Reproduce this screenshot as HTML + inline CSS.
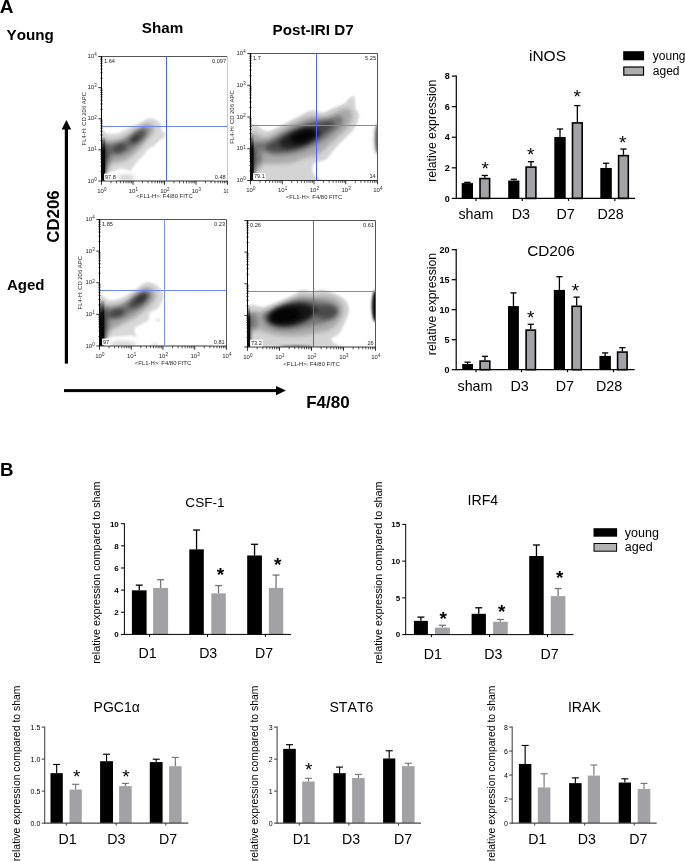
<!DOCTYPE html>
<html lang="en">
<head>
<meta charset="utf-8">
<title>Figure</title>
<style>
html,body{margin:0;padding:0;background:#fff;}
body{width:685px;height:861px;overflow:hidden;}
svg{display:block;font-family:'Liberation Sans', Arial, sans-serif;font-kerning:none;}
</style>
</head>
<body>
<svg width="685" height="861" viewBox="0 0 685 861">
<defs>
<linearGradient id="sg" x1="0" y1="0" x2="0" y2="1"><stop offset="0" stop-color="#000" stop-opacity="0.05"/><stop offset="0.3" stop-color="#000" stop-opacity="0.9"/><stop offset="1" stop-color="#000" stop-opacity="1"/></linearGradient>
<filter id="b0" x="-50%" y="-50%" width="200%" height="200%"><feGaussianBlur stdDeviation="0.7"/></filter>
<filter id="b1" x="-50%" y="-50%" width="200%" height="200%"><feGaussianBlur stdDeviation="1.2"/></filter>
<filter id="b2" x="-50%" y="-50%" width="200%" height="200%"><feGaussianBlur stdDeviation="2.2"/></filter>
<filter id="b3" x="-50%" y="-50%" width="200%" height="200%"><feGaussianBlur stdDeviation="3.2"/></filter>
<filter id="b4" x="-50%" y="-50%" width="200%" height="200%"><feGaussianBlur stdDeviation="4.5"/></filter>
</defs>
<rect width="685" height="861" fill="#fff"/>
<text x="-0.3" y="13.1" font-size="19" font-weight="bold">A</text>
<text x="6.6" y="39.7" font-size="15.2" font-weight="bold">Young</text>
<text x="141.8" y="33" font-size="15.2" font-weight="bold">Sham</text>
<text x="272.6" y="35" font-size="15.2" font-weight="bold">Post-IRI D7</text>
<text x="7" y="290.4" font-size="15" font-weight="bold">Aged</text>
<text x="59" y="216.5" font-size="16.8" font-weight="bold" text-anchor="middle" transform="rotate(-90 59 216.5)">CD206</text>
<text x="306.2" y="408.4" font-size="17" font-weight="bold">F4/80</text>
<rect x="64.8" y="128" width="3.2" height="235.6" fill="#000"/>
<polygon points="66.4,120 71.2,129.6 61.6,129.6"/>
<rect x="64" y="389.1" width="214" height="3" fill="#000"/>
<polygon points="286,390.6 276,385.9 276,395.3"/>
<clipPath id="g0"><rect x="0" y="0" width="228.3" height="861"/></clipPath>
<g clip-path="url(#g0)">
<clipPath id="c0"><rect x="101.5" y="56.5" width="126" height="124.5"/></clipPath>
<g clip-path="url(#c0)">
<path d="M101 132C102 125.23 104.25 133.17 107 133.4C109.75 133.63 114.77 133.9 117.5 133.4C120.23 132.9 120.48 131.77 123.4 130.4C126.32 129.03 131.5 126.85 135 125.2C138.5 123.55 142.07 121.67 144.4 120.5C146.73 119.33 147.25 118.4 149 118.2C150.75 118 152.95 118.33 154.9 119.3C156.85 120.27 159.53 122.23 160.7 124C161.87 125.77 161.12 128.15 161.9 129.9C162.68 131.65 165.22 133.15 165.4 134.5C165.58 135.85 164.17 136.83 163 138C161.83 139.17 159.95 140.13 158.4 141.5C156.85 142.87 155.27 145.03 153.7 146.2C152.13 147.37 150.55 147.13 149 148.5C147.45 149.87 146.15 152.45 144.4 154.4C142.65 156.35 140.25 158.27 138.5 160.2C136.75 162.13 135.25 164.25 133.9 166C132.55 167.75 131.77 170.1 130.4 170.7C129.03 171.3 127.27 169.98 125.7 169.6C124.13 169.22 122.75 168.22 121 168.4C119.25 168.58 117.15 170.12 115.2 170.7C113.25 171.28 110.87 171.52 109.3 171.9C107.73 172.28 107.18 172.65 105.8 173C104.42 173.35 101.8 180.83 101 174C100.2 167.17 100 138.77 101 132Z" fill="#000" fill-opacity="0.15" filter="url(#b1)"/>
<path d="M101 138C102.17 134 105.17 139.83 108 140C110.83 140.17 114.83 139.83 118 139C121.17 138.17 123.67 136.83 127 135C130.33 133.17 134.83 129.92 138 128C141.17 126.08 143.83 124.17 146 123.5C148.17 122.83 149.67 123.25 151 124C152.33 124.75 153.83 126.33 154 128C154.17 129.67 153.17 132 152 134C150.83 136 148.83 137.83 147 140C145.17 142.17 143 144.83 141 147C139 149.17 137.17 151 135 153C132.83 155 130.5 157.5 128 159C125.5 160.5 123 161.33 120 162C117 162.67 113.17 162.67 110 163C106.83 163.33 102.5 168.17 101 164C99.5 159.83 99.83 142 101 138Z" fill="#000" fill-opacity="0.24" filter="url(#b2)"/>
<path d="M101 142C102.17 139.67 105.5 143.75 108 144C110.5 144.25 113.17 144.17 116 143.5C118.83 142.83 122 141.75 125 140C128 138.25 131.17 135 134 133C136.83 131 139.83 128.83 142 128C144.17 127.17 146 127.33 147 128C148 128.67 148.5 130.33 148 132C147.5 133.67 145.83 135.83 144 138C142.17 140.17 139.5 142.83 137 145C134.5 147.17 131.67 149.42 129 151C126.33 152.58 123.83 153.67 121 154.5C118.17 155.33 115.33 155.42 112 156C108.67 156.58 102.83 160.33 101 158C99.17 155.67 99.83 144.33 101 142Z" fill="#000" fill-opacity="0.28" filter="url(#b2)"/>
<ellipse cx="118.7" cy="148.3" rx="7.5" ry="4.6" fill="#000" fill-opacity="0.36" filter="url(#b2)" transform="rotate(-15 118.7 148.3)"/>
<ellipse cx="137.5" cy="137" rx="9.5" ry="4.4" fill="#000" fill-opacity="0.36" filter="url(#b2)" transform="rotate(-38 137.5 137)"/>
<ellipse cx="135.5" cy="138.5" rx="4" ry="3" fill="#000" fill-opacity="0.16" filter="url(#b1)" transform="rotate(-38 135.5 138.5)"/>
<ellipse cx="127" cy="143.5" rx="12" ry="3.2" fill="#000" fill-opacity="0.14" filter="url(#b2)" transform="rotate(-30 127 143.5)"/>
<ellipse cx="126" cy="177.7" rx="9" ry="2.6" fill="#000" fill-opacity="0.2" filter="url(#b2)"/>
<rect x="101.5" y="137" width="3.7" height="45" fill="url(#sg)" fill-opacity="0.97" filter="url(#b0)"/>
<rect x="102" y="147" width="5" height="30" fill="url(#sg)" fill-opacity="0.35" filter="url(#b1)"/>
<ellipse cx="106" cy="158" rx="4.5" ry="14" fill="#000" fill-opacity="0.3" filter="url(#b2)"/>
</g>
<line x1="101.5" y1="56.5" x2="227.5" y2="56.5" stroke="#555" stroke-width="1"/>
<line x1="227.5" y1="56.5" x2="227.5" y2="181" stroke="#ccc" stroke-width="1"/>
<line x1="101.5" y1="181" x2="227.5" y2="181" stroke="#333" stroke-width="1"/>
<line x1="101.5" y1="126.5" x2="227.5" y2="126.5" stroke="#6f86f2" stroke-width="1"/>
<line x1="166.5" y1="56.5" x2="166.5" y2="181" stroke="#4a66ee" stroke-width="1"/>
<line x1="101.5" y1="56" x2="101.5" y2="181.5" stroke="#000" stroke-width="1"/>
<path d="M110.98 181v2.3M100.3 171.63h2.4M116.53 181v2.3M100.3 166.15h2.4M120.46 181v2.3M100.3 162.26h2.4M123.52 181v2.3M100.3 159.24h2.4M126.01 181v2.3M100.3 156.78h2.4M128.12 181v2.3M100.3 154.7h2.4M129.95 181v2.3M100.3 152.89h2.4M131.56 181v2.3M100.3 151.3h2.4M142.48 181v2.3M100.3 140.51h2.4M148.03 181v2.3M100.3 135.02h2.4M151.96 181v2.3M100.3 131.14h2.4M155.02 181v2.3M100.3 128.12h2.4M157.51 181v2.3M100.3 125.66h2.4M159.62 181v2.3M100.3 123.57h2.4M161.45 181v2.3M100.3 121.77h2.4M163.06 181v2.3M100.3 120.17h2.4M173.98 181v2.3M100.3 109.38h2.4M179.53 181v2.3M100.3 103.9h2.4M183.46 181v2.3M100.3 100.01h2.4M186.52 181v2.3M100.3 96.99h2.4M189.01 181v2.3M100.3 94.53h2.4M191.12 181v2.3M100.3 92.45h2.4M192.95 181v2.3M100.3 90.64h2.4M194.56 181v2.3M100.3 89.05h2.4M205.48 181v2.3M100.3 78.26h2.4M211.03 181v2.3M100.3 72.77h2.4M214.96 181v2.3M100.3 68.89h2.4M218.02 181v2.3M100.3 65.87h2.4M220.51 181v2.3M100.3 63.41h2.4M222.62 181v2.3M100.3 61.32h2.4M224.45 181v2.3M100.3 59.52h2.4M226.06 181v2.3M100.3 57.92h2.4" stroke="#111" stroke-width="0.7" fill="none"/>
<path d="M101.5 181v3.8M98.3 181h3.2M133 181v3.8M98.3 149.88h3.2M164.5 181v3.8M98.3 118.75h3.2M196 181v3.8M98.3 87.62h3.2M227.5 181v3.8M98.3 56.5h3.2" stroke="#111" stroke-width="0.85" fill="none"/>
<text x="97.2" y="192.7" font-size="6" fill="#26262e">10<tspan dy="-1.8" font-size="4.44">0</tspan></text>
<text x="128.7" y="192.7" font-size="6" fill="#26262e">10<tspan dy="-1.8" font-size="4.44">1</tspan></text>
<text x="160.2" y="192.7" font-size="6" fill="#26262e">10<tspan dy="-1.8" font-size="4.44">2</tspan></text>
<text x="191.7" y="192.7" font-size="6" fill="#26262e">10<tspan dy="-1.8" font-size="4.44">3</tspan></text>
<text x="223.2" y="192.7" font-size="6" fill="#26262e">10<tspan dy="-1.8" font-size="4.44">4</tspan></text>
<text x="96.6" y="182.6" font-size="6" text-anchor="end" fill="#26262e">10<tspan dy="-1.8" font-size="4.44">0</tspan></text>
<text x="96.6" y="151.47" font-size="6" text-anchor="end" fill="#26262e">10<tspan dy="-1.8" font-size="4.44">1</tspan></text>
<text x="96.6" y="120.35" font-size="6" text-anchor="end" fill="#26262e">10<tspan dy="-1.8" font-size="4.44">2</tspan></text>
<text x="96.6" y="89.22" font-size="6" text-anchor="end" fill="#26262e">10<tspan dy="-1.8" font-size="4.44">3</tspan></text>
<text x="96.6" y="58.1" font-size="6" text-anchor="end" fill="#26262e">10<tspan dy="-1.8" font-size="4.44">4</tspan></text>
<text x="86.3" y="118.75" font-size="5.9" text-anchor="middle" fill="#26262e" transform="rotate(-90 86.3 118.75)">FL4-H: CD 206 APC</text>
<text x="164.5" y="198.4" font-size="5.9" text-anchor="middle" fill="#26262e">&lt;FL1-H&gt;: F4/80 FITC</text>
<text x="104" y="63.3" font-size="5.6" fill="#26262e">1.64</text>
<text x="226" y="63.3" font-size="5.6" text-anchor="end" fill="#26262e">0.097</text>
<rect x="104.1" y="173.6" width="12.5" height="6.7" fill="#fff"/>
<text x="104.9" y="178.9" font-size="5.6" fill="#26262e">97.8</text>
<rect x="214" y="173.6" width="12.3" height="6.7" fill="#fff"/>
<text x="225.7" y="178.9" font-size="5.6" text-anchor="end" fill="#26262e">0.48</text>
</g>
<g>
<clipPath id="c1"><rect x="250.5" y="53.5" width="127" height="127"/></clipPath>
<g clip-path="url(#c1)">
<path d="M250 127C252.93 118.33 261.42 131.8 267.6 131C273.78 130.2 281.88 124.65 287.1 122.2C292.32 119.75 294.98 118.27 298.9 116.3C302.82 114.33 306.7 111.05 310.6 110.4C314.5 109.75 318.38 112.88 322.3 112.4C326.22 111.92 330.5 108.97 334.1 107.5C337.7 106.03 341.3 105.23 343.9 103.6C346.5 101.97 347.92 98.85 349.7 97.7C351.48 96.55 353.62 94.9 354.6 96.7C355.58 98.5 354.85 105.4 355.6 108.5C356.35 111.6 359.27 112.05 359.1 115.3C358.93 118.55 356.82 124.25 354.6 128C352.38 131.75 348.9 134.53 345.8 137.8C342.7 141.07 339.27 144.02 336 147.6C332.73 151.18 329.45 156.85 326.2 159.3C322.95 161.75 318.77 161.18 316.5 162.3C314.23 163.42 313.18 164.22 312.6 166C312.02 167.78 312.35 171.17 313 173C313.65 174.83 315.27 175.67 316.5 177C317.73 178.33 325.65 180 320.4 181C315.15 182 296.73 182.67 285 183C273.27 183.33 255.83 192.33 250 183C244.17 173.67 247.07 135.67 250 127Z" fill="#000" fill-opacity="0.17" filter="url(#b1)"/>
<path d="M250 134C252.67 129.5 260.67 137.83 266 137C271.33 136.17 276.83 131.58 282 129C287.17 126.42 292.17 123.67 297 121.5C301.83 119.33 306.5 116.83 311 116C315.5 115.17 319.83 117.17 324 116.5C328.17 115.83 332.33 113.42 336 112C339.67 110.58 343.5 108.33 346 108C348.5 107.67 350 108.33 351 110C352 111.67 352.67 115 352 118C351.33 121 349.33 124.83 347 128C344.67 131.17 341.17 134 338 137C334.83 140 331.33 143.17 328 146C324.67 148.83 321.83 152 318 154C314.17 156 309.67 156.5 305 158C300.33 159.5 295.5 162 290 163C284.5 164 277.33 163.83 272 164C266.67 164.17 261.67 164 258 164C254.33 164 251.33 169 250 164C248.67 159 247.33 138.5 250 134Z" fill="#000" fill-opacity="0.2" filter="url(#b2)"/>
<path d="M258 144C258.67 141.83 265.67 142 270 140C274.33 138 279.17 134.5 284 132C288.83 129.5 294.17 127 299 125C303.83 123 308.33 121 313 120C317.67 119 322.83 119.67 327 119C331.17 118.33 335.33 116.17 338 116C340.67 115.83 342.5 116.5 343 118C343.5 119.5 342.67 122.5 341 125C339.33 127.5 336.17 130.33 333 133C329.83 135.67 325.83 138.5 322 141C318.17 143.5 314.33 146 310 148C305.67 150 301 151.83 296 153C291 154.17 285 155 280 155C275 155 269.67 154.83 266 153C262.33 151.17 257.33 146.17 258 144Z" fill="#000" fill-opacity="0.3" filter="url(#b2)"/>
<path d="M266 146C267.67 144.17 273.67 141.33 278 139C282.33 136.67 287.33 134.17 292 132C296.67 129.83 301.67 127.5 306 126C310.33 124.5 314 123.83 318 123C322 122.17 327.33 120.83 330 121C332.67 121.17 334.33 122.33 334 124C333.67 125.67 330.83 128.67 328 131C325.17 133.33 320.83 135.67 317 138C313.17 140.33 309.17 143 305 145C300.83 147 296.5 148.92 292 150C287.5 151.08 282 151.5 278 151.5C274 151.5 270 150.92 268 150C266 149.08 264.33 147.83 266 146Z" fill="#000" fill-opacity="0.4" filter="url(#b2)"/>
<ellipse cx="300" cy="138" rx="21" ry="8.5" fill="#000" fill-opacity="0.55" filter="url(#b2)" transform="rotate(-18 300 138)"/>
<ellipse cx="303" cy="136.6" rx="13" ry="6" fill="#000" fill-opacity="0.85" filter="url(#b2)" transform="rotate(-18 303 136.6)"/>
<rect x="250.5" y="134" width="3.2" height="47" fill="url(#sg)" fill-opacity="0.97" filter="url(#b0)"/>
<rect x="251" y="142" width="5" height="36" fill="url(#sg)" fill-opacity="0.35" filter="url(#b1)"/>
<ellipse cx="256" cy="156" rx="6" ry="15" fill="#000" fill-opacity="0.3" filter="url(#b2)"/>
<ellipse cx="377.5" cy="139" rx="2.6" ry="14" fill="#000" fill-opacity="0.5" filter="url(#b1)"/>
<ellipse cx="378" cy="139" rx="4" ry="17" fill="#000" fill-opacity="0.2" filter="url(#b2)"/>
</g>
<line x1="250.5" y1="53.5" x2="377.5" y2="53.5" stroke="#555" stroke-width="1"/>
<line x1="377.5" y1="53.5" x2="377.5" y2="180.5" stroke="#555" stroke-width="1"/>
<line x1="250.5" y1="180.5" x2="377.5" y2="180.5" stroke="#333" stroke-width="1"/>
<line x1="250.5" y1="125.5" x2="377.5" y2="125.5" stroke="#6f86f2" stroke-width="1"/>
<line x1="316.5" y1="53.5" x2="316.5" y2="180.5" stroke="#4a66ee" stroke-width="1"/>
<line x1="250.5" y1="53" x2="250.5" y2="181" stroke="#000" stroke-width="1"/>
<path d="M260.06 180.5v2.3M249.3 170.94h2.4M265.65 180.5v2.3M249.3 165.35h2.4M269.62 180.5v2.3M249.3 161.38h2.4M272.69 180.5v2.3M249.3 158.31h2.4M275.21 180.5v2.3M249.3 155.79h2.4M277.33 180.5v2.3M249.3 153.67h2.4M279.17 180.5v2.3M249.3 151.83h2.4M280.8 180.5v2.3M249.3 150.2h2.4M291.81 180.5v2.3M249.3 139.19h2.4M297.4 180.5v2.3M249.3 133.6h2.4M301.37 180.5v2.3M249.3 129.63h2.4M304.44 180.5v2.3M249.3 126.56h2.4M306.96 180.5v2.3M249.3 124.04h2.4M309.08 180.5v2.3M249.3 121.92h2.4M310.92 180.5v2.3M249.3 120.08h2.4M312.55 180.5v2.3M249.3 118.45h2.4M323.56 180.5v2.3M249.3 107.44h2.4M329.15 180.5v2.3M249.3 101.85h2.4M333.12 180.5v2.3M249.3 97.88h2.4M336.19 180.5v2.3M249.3 94.81h2.4M338.71 180.5v2.3M249.3 92.29h2.4M340.83 180.5v2.3M249.3 90.17h2.4M342.67 180.5v2.3M249.3 88.33h2.4M344.3 180.5v2.3M249.3 86.7h2.4M355.31 180.5v2.3M249.3 75.69h2.4M360.9 180.5v2.3M249.3 70.1h2.4M364.87 180.5v2.3M249.3 66.13h2.4M367.94 180.5v2.3M249.3 63.06h2.4M370.46 180.5v2.3M249.3 60.54h2.4M372.58 180.5v2.3M249.3 58.42h2.4M374.42 180.5v2.3M249.3 56.58h2.4M376.05 180.5v2.3M249.3 54.95h2.4" stroke="#111" stroke-width="0.7" fill="none"/>
<path d="M250.5 180.5v3.8M247.3 180.5h3.2M282.25 180.5v3.8M247.3 148.75h3.2M314 180.5v3.8M247.3 117h3.2M345.75 180.5v3.8M247.3 85.25h3.2M377.5 180.5v3.8M247.3 53.5h3.2" stroke="#111" stroke-width="0.85" fill="none"/>
<text x="246.2" y="192.2" font-size="6" fill="#26262e">10<tspan dy="-1.8" font-size="4.44">0</tspan></text>
<text x="277.95" y="192.2" font-size="6" fill="#26262e">10<tspan dy="-1.8" font-size="4.44">1</tspan></text>
<text x="309.7" y="192.2" font-size="6" fill="#26262e">10<tspan dy="-1.8" font-size="4.44">2</tspan></text>
<text x="341.45" y="192.2" font-size="6" fill="#26262e">10<tspan dy="-1.8" font-size="4.44">3</tspan></text>
<text x="373.2" y="192.2" font-size="6" fill="#26262e">10<tspan dy="-1.8" font-size="4.44">4</tspan></text>
<text x="245.6" y="182.1" font-size="6" text-anchor="end" fill="#26262e">10<tspan dy="-1.8" font-size="4.44">0</tspan></text>
<text x="245.6" y="150.35" font-size="6" text-anchor="end" fill="#26262e">10<tspan dy="-1.8" font-size="4.44">1</tspan></text>
<text x="245.6" y="118.6" font-size="6" text-anchor="end" fill="#26262e">10<tspan dy="-1.8" font-size="4.44">2</tspan></text>
<text x="245.6" y="86.85" font-size="6" text-anchor="end" fill="#26262e">10<tspan dy="-1.8" font-size="4.44">3</tspan></text>
<text x="245.6" y="55.1" font-size="6" text-anchor="end" fill="#26262e">10<tspan dy="-1.8" font-size="4.44">4</tspan></text>
<text x="234.3" y="117" font-size="5.9" text-anchor="middle" fill="#26262e" transform="rotate(-90 234.3 117)">FL4-H: CD 206 APC</text>
<text x="314" y="198.5" font-size="5.9" text-anchor="middle" fill="#26262e">&lt;FL1-H&gt;: F4/80 FITC</text>
<text x="253" y="60.3" font-size="5.6" fill="#26262e">1.7</text>
<text x="376" y="60.3" font-size="5.6" text-anchor="end" fill="#26262e">5.25</text>
<rect x="253.1" y="173.1" width="12.5" height="6.7" fill="#fff"/>
<text x="253.9" y="178.4" font-size="5.6" fill="#26262e">79.1</text>
<rect x="368.67" y="173.1" width="7.63" height="6.7" fill="#fff"/>
<text x="375.7" y="178.4" font-size="5.6" text-anchor="end" fill="#26262e">14</text>
</g>
<g>
<clipPath id="c2"><rect x="99.5" y="219.5" width="127" height="126.5"/></clipPath>
<g clip-path="url(#c2)">
<path d="M99 297.2C100.62 290.72 106.12 299.72 108.7 300.1C111.28 300.48 112.17 299.98 114.5 299.5C116.83 299.02 119.97 298.37 122.7 297.2C125.43 296.03 128.37 294.07 130.9 292.5C133.43 290.93 135.77 289.35 137.9 287.8C140.03 286.25 141.95 284.17 143.7 283.2C145.45 282.23 146.45 281.82 148.4 282C150.35 282.18 153.27 282.93 155.4 284.3C157.53 285.67 159.83 288.25 161.2 290.2C162.57 292.15 163.78 293.47 163.6 296C163.42 298.53 161.47 303.07 160.1 305.4C158.73 307.73 157.15 308.65 155.4 310C153.65 311.35 150.77 311.75 149.6 313.5C148.43 315.25 149.38 318.93 148.4 320.5C147.42 322.07 145.85 321.72 143.7 322.9C141.55 324.08 137.05 326.25 135.5 327.6C133.95 328.95 134.2 329.45 134.4 331C134.6 332.55 137.1 336.12 136.7 336.9C136.3 337.68 133.55 335.9 132 335.7C130.45 335.5 129.33 335.6 127.4 335.7C125.47 335.8 123.13 336.1 120.4 336.3C117.67 336.5 113.53 336.62 111 336.9C108.47 337.18 107.2 337.65 105.2 338C103.2 338.35 100.03 345.8 99 339C97.97 332.2 97.38 303.68 99 297.2Z" fill="#000" fill-opacity="0.15" filter="url(#b1)"/>
<path d="M99 303C100.5 298.67 104.83 304.83 108 305C111.17 305.17 114.83 304.83 118 304C121.17 303.17 124.17 301.58 127 300C129.83 298.42 132.5 296.33 135 294.5C137.5 292.67 139.83 290.25 142 289C144.17 287.75 146.17 286.92 148 287C149.83 287.08 151.67 288.17 153 289.5C154.33 290.83 156 292.92 156 295C156 297.08 154.5 299.83 153 302C151.5 304.17 149 306.17 147 308C145 309.83 143.17 311.33 141 313C138.83 314.67 136.5 316.5 134 318C131.5 319.5 128.83 320.5 126 322C123.17 323.5 120 325.67 117 327C114 328.33 111 329.33 108 330C105 330.67 100.5 335.5 99 331C97.5 326.5 97.5 307.33 99 303Z" fill="#000" fill-opacity="0.24" filter="url(#b2)"/>
<path d="M104 308C105 306.42 109.17 308.83 112 308.5C114.83 308.17 118.17 307.25 121 306C123.83 304.75 126.33 302.83 129 301C131.67 299.17 134.5 296.67 137 295C139.5 293.33 142 291.5 144 291C146 290.5 148 291 149 292C150 293 150.5 295.17 150 297C149.5 298.83 147.83 301.08 146 303C144.17 304.92 141.5 306.83 139 308.5C136.5 310.17 133.67 311.58 131 313C128.33 314.42 125.83 316 123 317C120.17 318 116.83 318.83 114 319C111.17 319.17 107.67 319.83 106 318C104.33 316.17 103 309.58 104 308Z" fill="#000" fill-opacity="0.28" filter="url(#b2)"/>
<ellipse cx="116.5" cy="313.2" rx="7.5" ry="4.6" fill="#000" fill-opacity="0.4" filter="url(#b2)" transform="rotate(-12 116.5 313.2)"/>
<ellipse cx="139" cy="300" rx="11" ry="5" fill="#000" fill-opacity="0.42" filter="url(#b2)" transform="rotate(-36 139 300)"/>
<ellipse cx="141" cy="298.5" rx="6" ry="3.2" fill="#000" fill-opacity="0.2" filter="url(#b1)" transform="rotate(-36 141 298.5)"/>
<ellipse cx="127" cy="308" rx="9" ry="3.2" fill="#000" fill-opacity="0.1" filter="url(#b2)" transform="rotate(-30 127 308)"/>
<ellipse cx="123" cy="344" rx="13" ry="2.6" fill="#000" fill-opacity="0.2" filter="url(#b2)"/>
<ellipse cx="154.5" cy="344.5" rx="3.5" ry="1.8" fill="#000" fill-opacity="0.12" filter="url(#b1)"/>
<ellipse cx="158.3" cy="320" rx="2.6" ry="1.7" fill="#000" fill-opacity="0.1" filter="url(#b1)"/>
<rect x="99.5" y="300" width="4.9" height="47" fill="url(#sg)" fill-opacity="0.98" filter="url(#b0)"/>
<rect x="100" y="309" width="6.5" height="34" fill="url(#sg)" fill-opacity="0.4" filter="url(#b1)"/>
<ellipse cx="105" cy="324" rx="5" ry="16" fill="#000" fill-opacity="0.3" filter="url(#b2)"/>
</g>
<line x1="99.5" y1="219.5" x2="226.5" y2="219.5" stroke="#555" stroke-width="1"/>
<line x1="226.5" y1="219.5" x2="226.5" y2="346" stroke="#555" stroke-width="1"/>
<line x1="99.5" y1="346" x2="226.5" y2="346" stroke="#333" stroke-width="1"/>
<line x1="99.5" y1="290.5" x2="226.5" y2="290.5" stroke="#6f86f2" stroke-width="1"/>
<line x1="164.5" y1="219.5" x2="164.5" y2="346" stroke="#7d90f3" stroke-width="1"/>
<line x1="99.5" y1="219" x2="99.5" y2="346.5" stroke="#000" stroke-width="1"/>
<path d="M109.06 346v2.3M98.3 336.48h2.4M114.65 346v2.3M98.3 330.91h2.4M118.62 346v2.3M98.3 326.96h2.4M121.69 346v2.3M98.3 323.9h2.4M124.21 346v2.3M98.3 321.39h2.4M126.33 346v2.3M98.3 319.27h2.4M128.17 346v2.3M98.3 317.44h2.4M129.8 346v2.3M98.3 315.82h2.4M140.81 346v2.3M98.3 304.85h2.4M146.4 346v2.3M98.3 299.29h2.4M150.37 346v2.3M98.3 295.33h2.4M153.44 346v2.3M98.3 292.27h2.4M155.96 346v2.3M98.3 289.77h2.4M158.08 346v2.3M98.3 287.65h2.4M159.92 346v2.3M98.3 285.81h2.4M161.55 346v2.3M98.3 284.2h2.4M172.56 346v2.3M98.3 273.23h2.4M178.15 346v2.3M98.3 267.66h2.4M182.12 346v2.3M98.3 263.71h2.4M185.19 346v2.3M98.3 260.65h2.4M187.71 346v2.3M98.3 258.14h2.4M189.83 346v2.3M98.3 256.02h2.4M191.67 346v2.3M98.3 254.19h2.4M193.3 346v2.3M98.3 252.57h2.4M204.31 346v2.3M98.3 241.6h2.4M209.9 346v2.3M98.3 236.04h2.4M213.87 346v2.3M98.3 232.08h2.4M216.94 346v2.3M98.3 229.02h2.4M219.46 346v2.3M98.3 226.52h2.4M221.58 346v2.3M98.3 224.4h2.4M223.42 346v2.3M98.3 222.56h2.4M225.05 346v2.3M98.3 220.95h2.4" stroke="#111" stroke-width="0.7" fill="none"/>
<path d="M99.5 346v3.8M96.3 346h3.2M131.25 346v3.8M96.3 314.38h3.2M163 346v3.8M96.3 282.75h3.2M194.75 346v3.8M96.3 251.12h3.2M226.5 346v3.8M96.3 219.5h3.2" stroke="#111" stroke-width="0.85" fill="none"/>
<text x="95.2" y="358.2" font-size="6" fill="#26262e">10<tspan dy="-1.8" font-size="4.44">0</tspan></text>
<text x="126.95" y="358.2" font-size="6" fill="#26262e">10<tspan dy="-1.8" font-size="4.44">1</tspan></text>
<text x="158.7" y="358.2" font-size="6" fill="#26262e">10<tspan dy="-1.8" font-size="4.44">2</tspan></text>
<text x="190.45" y="358.2" font-size="6" fill="#26262e">10<tspan dy="-1.8" font-size="4.44">3</tspan></text>
<text x="222.2" y="358.2" font-size="6" fill="#26262e">10<tspan dy="-1.8" font-size="4.44">4</tspan></text>
<text x="94.6" y="347.6" font-size="6" text-anchor="end" fill="#26262e">10<tspan dy="-1.8" font-size="4.44">0</tspan></text>
<text x="94.6" y="315.98" font-size="6" text-anchor="end" fill="#26262e">10<tspan dy="-1.8" font-size="4.44">1</tspan></text>
<text x="94.6" y="284.35" font-size="6" text-anchor="end" fill="#26262e">10<tspan dy="-1.8" font-size="4.44">2</tspan></text>
<text x="94.6" y="252.72" font-size="6" text-anchor="end" fill="#26262e">10<tspan dy="-1.8" font-size="4.44">3</tspan></text>
<text x="94.6" y="221.1" font-size="6" text-anchor="end" fill="#26262e">10<tspan dy="-1.8" font-size="4.44">4</tspan></text>
<text x="82.3" y="282.75" font-size="5.9" text-anchor="middle" fill="#26262e" transform="rotate(-90 82.3 282.75)">FL4-H: CD 206 APC</text>
<text x="163" y="364.7" font-size="5.9" text-anchor="middle" fill="#26262e">&lt;FL1-H&gt;: F4/80 FITC</text>
<text x="102" y="226.3" font-size="5.6" fill="#26262e">1.85</text>
<text x="225" y="226.3" font-size="5.6" text-anchor="end" fill="#26262e">0.23</text>
<rect x="102.1" y="338.6" width="7.83" height="6.7" fill="#fff"/>
<text x="102.9" y="343.9" font-size="5.6" fill="#26262e">97</text>
<rect x="213" y="338.6" width="12.3" height="6.7" fill="#fff"/>
<text x="224.7" y="343.9" font-size="5.6" text-anchor="end" fill="#26262e">0.81</text>
</g>
<g>
<clipPath id="c3"><rect x="247.5" y="220.5" width="128" height="126.5"/></clipPath>
<g clip-path="url(#c3)">
<path d="M247 307.7C249.82 300.65 258.45 307.85 263.9 306.7C269.35 305.55 274.75 302.78 279.7 300.8C284.65 298.82 289.95 296.62 293.6 294.8C297.25 292.98 298.62 290.4 301.6 289.9C304.58 289.4 307.87 291.8 311.5 291.8C315.13 291.8 319.43 289.57 323.4 289.9C327.37 290.23 331.65 292.15 335.3 293.8C338.95 295.45 342.98 297.15 345.3 299.8C347.62 302.45 349.2 306.07 349.2 309.7C349.2 313.33 346.95 317.63 345.3 321.6C343.65 325.57 341.62 330.68 339.3 333.5C336.98 336.32 332.28 336.92 331.4 338.5C330.52 340.08 332.68 341.42 334 343C335.32 344.58 346.63 346.83 339.3 348C331.97 349.17 305.38 349.83 290 350C274.62 350.17 254.17 356.05 247 349C239.83 341.95 244.18 314.75 247 307.7Z" fill="#000" fill-opacity="0.17" filter="url(#b1)"/>
<path d="M250 313C252.33 310.5 259.17 312.33 264 311C268.83 309.67 274.33 307 279 305C283.67 303 288 300.67 292 299C296 297.33 299.17 295.5 303 295C306.83 294.5 311 295.92 315 296C319 296.08 323.33 295 327 295.5C330.67 296 334.33 297.25 337 299C339.67 300.75 342 303.5 343 306C344 308.5 343.83 311.17 343 314C342.17 316.83 340.33 320.33 338 323C335.67 325.67 332.67 328.33 329 330C325.33 331.67 320.83 332 316 333C311.17 334 305.5 335.5 300 336C294.5 336.5 288.33 336.5 283 336C277.67 335.5 272.5 334.17 268 333C263.5 331.83 259 330.17 256 329C253 327.83 251 328.67 250 326C249 323.33 247.67 315.5 250 313Z" fill="#000" fill-opacity="0.2" filter="url(#b2)"/>
<path d="M262 316C262.67 313.17 268.17 311.17 272 309C275.83 306.83 280.67 304.67 285 303C289.33 301.33 293.67 299.58 298 299C302.33 298.42 306.67 299.17 311 299.5C315.33 299.83 320.17 300.25 324 301C327.83 301.75 331.67 302.5 334 304C336.33 305.5 338 307.67 338 310C338 312.33 336.33 315.83 334 318C331.67 320.17 328 321.67 324 323C320 324.33 314.67 324.92 310 326C305.33 327.08 300.83 328.83 296 329.5C291.17 330.17 285.67 330.58 281 330C276.33 329.42 271.17 328.33 268 326C264.83 323.67 261.33 318.83 262 316Z" fill="#000" fill-opacity="0.3" filter="url(#b2)"/>
<path d="M266 317C266.5 314.67 271.5 312 275 310C278.5 308 282.83 306.33 287 305C291.17 303.67 296.17 302.33 300 302C303.83 301.67 307 302.33 310 303C313 303.67 317 304.33 318 306C319 307.67 317.67 310.83 316 313C314.33 315.17 311.17 317.08 308 319C304.83 320.92 301 323.25 297 324.5C293 325.75 288.17 326.58 284 326.5C279.83 326.42 275 325.58 272 324C269 322.42 265.5 319.33 266 317Z" fill="#000" fill-opacity="0.42" filter="url(#b2)"/>
<ellipse cx="291" cy="314.8" rx="23" ry="10" fill="#000" fill-opacity="0.7" filter="url(#b2)" transform="rotate(-10 291 314.8)"/>
<ellipse cx="286" cy="315.6" rx="15" ry="7.2" fill="#000" fill-opacity="0.88" filter="url(#b2)" transform="rotate(-10 286 315.6)"/>
<ellipse cx="326" cy="312" rx="12" ry="7" fill="#000" fill-opacity="0.38" filter="url(#b2)"/>
<ellipse cx="296" cy="346.6" rx="17" ry="1.3" fill="#000" fill-opacity="0.45" filter="url(#b1)"/>
<rect x="247.5" y="306" width="2.8" height="41" fill="url(#sg)" fill-opacity="0.97" filter="url(#b0)"/>
<rect x="248" y="312" width="4.2" height="32" fill="url(#sg)" fill-opacity="0.3" filter="url(#b1)"/>
<ellipse cx="253" cy="322" rx="5" ry="10" fill="#000" fill-opacity="0.25" filter="url(#b2)"/>
<ellipse cx="375.4" cy="306" rx="2.8" ry="14.5" fill="#000" fill-opacity="0.97" filter="url(#b1)"/>
<ellipse cx="375.6" cy="306" rx="4.2" ry="16.5" fill="#000" fill-opacity="0.5" filter="url(#b1)"/>
</g>
<line x1="247.5" y1="220.5" x2="375.5" y2="220.5" stroke="#555" stroke-width="1"/>
<line x1="375.5" y1="220.5" x2="375.5" y2="347" stroke="#555" stroke-width="1"/>
<line x1="247.5" y1="347" x2="375.5" y2="347" stroke="#333" stroke-width="1"/>
<line x1="247.5" y1="291.5" x2="375.5" y2="291.5" stroke="#6f86f2" stroke-width="1"/>
<line x1="313.5" y1="220.5" x2="313.5" y2="347" stroke="#4a66ee" stroke-width="1"/>
<line x1="247.5" y1="220" x2="247.5" y2="347.5" stroke="#000" stroke-width="1"/>
<path d="M257.13 347v2.3M246.3 337.48h2.4M262.77 347v2.3M246.3 331.91h2.4M266.77 347v2.3M246.3 327.96h2.4M269.87 347v2.3M246.3 324.9h2.4M272.4 347v2.3M246.3 322.39h2.4M274.54 347v2.3M246.3 320.27h2.4M276.4 347v2.3M246.3 318.44h2.4M278.04 347v2.3M246.3 316.82h2.4M289.13 347v2.3M246.3 305.85h2.4M294.77 347v2.3M246.3 300.29h2.4M298.77 347v2.3M246.3 296.33h2.4M301.87 347v2.3M246.3 293.27h2.4M304.4 347v2.3M246.3 290.77h2.4M306.54 347v2.3M246.3 288.65h2.4M308.4 347v2.3M246.3 286.81h2.4M310.04 347v2.3M246.3 285.2h2.4M321.13 347v2.3M246.3 274.23h2.4M326.77 347v2.3M246.3 268.66h2.4M330.77 347v2.3M246.3 264.71h2.4M333.87 347v2.3M246.3 261.65h2.4M336.4 347v2.3M246.3 259.14h2.4M338.54 347v2.3M246.3 257.02h2.4M340.4 347v2.3M246.3 255.19h2.4M342.04 347v2.3M246.3 253.57h2.4M353.13 347v2.3M246.3 242.6h2.4M358.77 347v2.3M246.3 237.04h2.4M362.77 347v2.3M246.3 233.08h2.4M365.87 347v2.3M246.3 230.02h2.4M368.4 347v2.3M246.3 227.52h2.4M370.54 347v2.3M246.3 225.4h2.4M372.4 347v2.3M246.3 223.56h2.4M374.04 347v2.3M246.3 221.95h2.4" stroke="#111" stroke-width="0.7" fill="none"/>
<path d="M247.5 347v3.8M244.3 347h3.2M279.5 347v3.8M244.3 315.38h3.2M311.5 347v3.8M244.3 283.75h3.2M343.5 347v3.8M244.3 252.12h3.2M375.5 347v3.8M244.3 220.5h3.2" stroke="#111" stroke-width="0.85" fill="none"/>
<text x="243.2" y="359.2" font-size="6" fill="#26262e">10<tspan dy="-1.8" font-size="4.44">0</tspan></text>
<text x="275.2" y="359.2" font-size="6" fill="#26262e">10<tspan dy="-1.8" font-size="4.44">1</tspan></text>
<text x="307.2" y="359.2" font-size="6" fill="#26262e">10<tspan dy="-1.8" font-size="4.44">2</tspan></text>
<text x="339.2" y="359.2" font-size="6" fill="#26262e">10<tspan dy="-1.8" font-size="4.44">3</tspan></text>
<text x="371.2" y="359.2" font-size="6" fill="#26262e">10<tspan dy="-1.8" font-size="4.44">4</tspan></text>
<text x="311.5" y="365.7" font-size="5.9" text-anchor="middle" fill="#26262e">&lt;FL1-H&gt;: F4/80 FITC</text>
<text x="250" y="227.3" font-size="5.6" fill="#26262e">0.26</text>
<text x="374" y="227.3" font-size="5.6" text-anchor="end" fill="#26262e">0.61</text>
<rect x="250.1" y="339.6" width="12.5" height="6.7" fill="#fff"/>
<text x="250.9" y="344.9" font-size="5.6" fill="#26262e">73.2</text>
<rect x="366.67" y="339.6" width="7.63" height="6.7" fill="#fff"/>
<text x="373.7" y="344.9" font-size="5.6" text-anchor="end" fill="#26262e">26</text>
</g>
<g>
<line x1="467.35" y1="183.11" x2="467.35" y2="182.35" stroke="#000" stroke-width="1.3"/>
<line x1="464.25" y1="182.35" x2="470.45" y2="182.35" stroke="#000" stroke-width="1.3"/>
<rect x="461.7" y="183.11" width="11.3" height="15.29" fill="#000"/>
<line x1="484.8" y1="177.76" x2="484.8" y2="175.47" stroke="#000" stroke-width="1.3"/>
<line x1="481.7" y1="175.47" x2="487.9" y2="175.47" stroke="#000" stroke-width="1.3"/>
<rect x="480" y="178.56" width="9.6" height="19.84" fill="#a3a2a6" stroke="#000" stroke-width="1.6"/>
<line x1="513.8" y1="180.51" x2="513.8" y2="179.29" stroke="#000" stroke-width="1.3"/>
<line x1="510.7" y1="179.29" x2="516.9" y2="179.29" stroke="#000" stroke-width="1.3"/>
<rect x="508.2" y="180.51" width="11.2" height="17.89" fill="#000"/>
<line x1="531" y1="166.3" x2="531" y2="161.71" stroke="#000" stroke-width="1.3"/>
<line x1="527.9" y1="161.71" x2="534.1" y2="161.71" stroke="#000" stroke-width="1.3"/>
<rect x="526.1" y="167.1" width="9.8" height="31.3" fill="#a3a2a6" stroke="#000" stroke-width="1.6"/>
<line x1="560" y1="136.94" x2="560" y2="128.99" stroke="#000" stroke-width="1.3"/>
<line x1="556.9" y1="128.99" x2="563.1" y2="128.99" stroke="#000" stroke-width="1.3"/>
<rect x="554.3" y="136.94" width="11.4" height="61.46" fill="#000"/>
<line x1="577.35" y1="122.12" x2="577.35" y2="105.6" stroke="#000" stroke-width="1.3"/>
<line x1="574.25" y1="105.6" x2="580.45" y2="105.6" stroke="#000" stroke-width="1.3"/>
<rect x="572.5" y="122.92" width="9.7" height="75.48" fill="#a3a2a6" stroke="#000" stroke-width="1.6"/>
<line x1="606.05" y1="167.98" x2="606.05" y2="163.24" stroke="#000" stroke-width="1.3"/>
<line x1="602.95" y1="163.24" x2="609.15" y2="163.24" stroke="#000" stroke-width="1.3"/>
<rect x="600.3" y="167.98" width="11.5" height="30.42" fill="#000"/>
<line x1="623.45" y1="154.83" x2="623.45" y2="149.02" stroke="#000" stroke-width="1.3"/>
<line x1="620.35" y1="149.02" x2="626.55" y2="149.02" stroke="#000" stroke-width="1.3"/>
<rect x="618.6" y="155.63" width="9.7" height="42.77" fill="#a3a2a6" stroke="#000" stroke-width="1.6"/>
<line x1="456.3" y1="75.5" x2="456.3" y2="199" stroke="#000" stroke-width="1.2"/>
<line x1="455.7" y1="198.4" x2="635" y2="198.4" stroke="#000" stroke-width="1.2"/>
<line x1="451.8" y1="198.4" x2="456.3" y2="198.4" stroke="#000" stroke-width="1.2"/>
<text x="449.7" y="201.64" font-size="9" font-weight="bold" text-anchor="end">0</text>
<line x1="451.8" y1="167.82" x2="456.3" y2="167.82" stroke="#000" stroke-width="1.2"/>
<text x="449.7" y="171.06" font-size="9" font-weight="bold" text-anchor="end">2</text>
<line x1="451.8" y1="137.25" x2="456.3" y2="137.25" stroke="#000" stroke-width="1.2"/>
<text x="449.7" y="140.49" font-size="9" font-weight="bold" text-anchor="end">4</text>
<line x1="451.8" y1="106.67" x2="456.3" y2="106.67" stroke="#000" stroke-width="1.2"/>
<text x="449.7" y="109.91" font-size="9" font-weight="bold" text-anchor="end">6</text>
<line x1="451.8" y1="76.1" x2="456.3" y2="76.1" stroke="#000" stroke-width="1.2"/>
<text x="449.7" y="79.34" font-size="9" font-weight="bold" text-anchor="end">8</text>
<line x1="476" y1="198.4" x2="476" y2="200.9" stroke="#000" stroke-width="1.2"/>
<line x1="522.3" y1="198.4" x2="522.3" y2="200.9" stroke="#000" stroke-width="1.2"/>
<line x1="568.5" y1="198.4" x2="568.5" y2="200.9" stroke="#000" stroke-width="1.2"/>
<line x1="614.8" y1="198.4" x2="614.8" y2="200.9" stroke="#000" stroke-width="1.2"/>
<text x="475.9" y="218.9" font-size="14.3" text-anchor="middle">sham</text>
<text x="520.8" y="218.9" font-size="14.3" text-anchor="middle">D3</text>
<text x="565.7" y="218.9" font-size="14.3" text-anchor="middle">D7</text>
<text x="610.6" y="218.9" font-size="14.3" text-anchor="middle">D28</text>
<text x="547.5" y="61.2" font-size="15.5" text-anchor="middle">iNOS</text>
<text x="435.9" y="130.7" font-size="12.27" text-anchor="middle" transform="rotate(-90 435.9 130.7)">relative expression</text>
<text x="485.1" y="175.07" font-size="19" text-anchor="middle">*</text>
<text x="530.6" y="161.47" font-size="19" text-anchor="middle">*</text>
<text x="577.1" y="103.38" font-size="19" text-anchor="middle">*</text>
<text x="622.6" y="148.97" font-size="19" text-anchor="middle">*</text>
</g>
<g>
<line x1="467.6" y1="364" x2="467.6" y2="362.2" stroke="#000" stroke-width="1.3"/>
<line x1="464.5" y1="362.2" x2="470.7" y2="362.2" stroke="#000" stroke-width="1.3"/>
<rect x="462.2" y="364" width="10.8" height="5.7" fill="#000"/>
<line x1="484.95" y1="360.28" x2="484.95" y2="356.32" stroke="#000" stroke-width="1.3"/>
<line x1="481.85" y1="356.32" x2="488.05" y2="356.32" stroke="#000" stroke-width="1.3"/>
<rect x="480.1" y="361.08" width="9.7" height="8.62" fill="#a3a2a6" stroke="#000" stroke-width="1.6"/>
<line x1="513.45" y1="306.1" x2="513.45" y2="292.9" stroke="#000" stroke-width="1.3"/>
<line x1="510.35" y1="292.9" x2="516.55" y2="292.9" stroke="#000" stroke-width="1.3"/>
<rect x="508" y="306.1" width="10.9" height="63.6" fill="#000"/>
<line x1="530.75" y1="329.32" x2="530.75" y2="324.28" stroke="#000" stroke-width="1.3"/>
<line x1="527.65" y1="324.28" x2="533.85" y2="324.28" stroke="#000" stroke-width="1.3"/>
<rect x="526.1" y="330.12" width="9.3" height="39.58" fill="#a3a2a6" stroke="#000" stroke-width="1.6"/>
<line x1="559.4" y1="289.9" x2="559.4" y2="276.7" stroke="#000" stroke-width="1.3"/>
<line x1="556.3" y1="276.7" x2="562.5" y2="276.7" stroke="#000" stroke-width="1.3"/>
<rect x="553.8" y="289.9" width="11.2" height="79.8" fill="#000"/>
<line x1="576.65" y1="305.5" x2="576.65" y2="297.1" stroke="#000" stroke-width="1.3"/>
<line x1="573.55" y1="297.1" x2="579.75" y2="297.1" stroke="#000" stroke-width="1.3"/>
<rect x="572.1" y="306.3" width="9.1" height="63.4" fill="#a3a2a6" stroke="#000" stroke-width="1.6"/>
<line x1="605.15" y1="355.9" x2="605.15" y2="352.9" stroke="#000" stroke-width="1.3"/>
<line x1="602.05" y1="352.9" x2="608.25" y2="352.9" stroke="#000" stroke-width="1.3"/>
<rect x="599.4" y="355.9" width="11.5" height="13.8" fill="#000"/>
<line x1="622.35" y1="351.28" x2="622.35" y2="347.68" stroke="#000" stroke-width="1.3"/>
<line x1="619.25" y1="347.68" x2="625.45" y2="347.68" stroke="#000" stroke-width="1.3"/>
<rect x="617.6" y="352.08" width="9.5" height="17.62" fill="#a3a2a6" stroke="#000" stroke-width="1.6"/>
<line x1="456.2" y1="249.1" x2="456.2" y2="370.3" stroke="#000" stroke-width="1.2"/>
<line x1="455.6" y1="369.7" x2="634.6" y2="369.7" stroke="#000" stroke-width="1.2"/>
<line x1="451.7" y1="369.7" x2="456.2" y2="369.7" stroke="#000" stroke-width="1.2"/>
<text x="449.6" y="372.94" font-size="9" font-weight="bold" text-anchor="end">0</text>
<line x1="451.7" y1="339.7" x2="456.2" y2="339.7" stroke="#000" stroke-width="1.2"/>
<text x="449.6" y="342.94" font-size="9" font-weight="bold" text-anchor="end">5</text>
<line x1="451.7" y1="309.7" x2="456.2" y2="309.7" stroke="#000" stroke-width="1.2"/>
<text x="449.6" y="312.94" font-size="9" font-weight="bold" text-anchor="end">10</text>
<line x1="451.7" y1="279.7" x2="456.2" y2="279.7" stroke="#000" stroke-width="1.2"/>
<text x="449.6" y="282.94" font-size="9" font-weight="bold" text-anchor="end">15</text>
<line x1="451.7" y1="249.7" x2="456.2" y2="249.7" stroke="#000" stroke-width="1.2"/>
<text x="449.6" y="252.94" font-size="9" font-weight="bold" text-anchor="end">20</text>
<line x1="476" y1="369.7" x2="476" y2="372.2" stroke="#000" stroke-width="1.2"/>
<line x1="521.5" y1="369.7" x2="521.5" y2="372.2" stroke="#000" stroke-width="1.2"/>
<line x1="567.5" y1="369.7" x2="567.5" y2="372.2" stroke="#000" stroke-width="1.2"/>
<line x1="613.5" y1="369.7" x2="613.5" y2="372.2" stroke="#000" stroke-width="1.2"/>
<text x="475" y="390.9" font-size="14.3" text-anchor="middle">sham</text>
<text x="519.6" y="390.9" font-size="14.3" text-anchor="middle">D3</text>
<text x="564.9" y="390.9" font-size="14.3" text-anchor="middle">D7</text>
<text x="609.1" y="390.9" font-size="14.3" text-anchor="middle">D28</text>
<text x="551" y="255.6" font-size="15.3" text-anchor="middle">CD206</text>
<text x="435.9" y="304" font-size="12.27" text-anchor="middle" transform="rotate(-90 435.9 304)">relative expression</text>
<text x="530.7" y="323.68" font-size="19" text-anchor="middle">*</text>
<text x="575.5" y="297.38" font-size="19" text-anchor="middle">*</text>
</g>
<rect x="623.2" y="51.2" width="20.9" height="9.1" fill="#000"/>
<rect x="623.8" y="67" width="19.7" height="8.1" fill="#b0adae" stroke="#000" stroke-width="1.2"/>
<text x="652.8" y="59.8" font-size="12">young</text>
<text x="652.8" y="74.6" font-size="12">aged</text>
<text x="0" y="476" font-size="18.6" font-weight="bold">B</text>
<g>
<line x1="139.25" y1="590.34" x2="139.25" y2="585.14" stroke="#000" stroke-width="1.3"/>
<line x1="135.75" y1="585.14" x2="142.75" y2="585.14" stroke="#000" stroke-width="1.3"/>
<rect x="131.9" y="590.34" width="14.7" height="44.06" fill="#000"/>
<line x1="160.6" y1="587.91" x2="160.6" y2="579.71" stroke="#76757a" stroke-width="1.3"/>
<line x1="157.1" y1="579.71" x2="164.1" y2="579.71" stroke="#76757a" stroke-width="1.3"/>
<rect x="153.1" y="587.91" width="15" height="46.49" fill="#a2a1a5"/>
<line x1="196.55" y1="549.38" x2="196.55" y2="530.01" stroke="#000" stroke-width="1.3"/>
<line x1="193.05" y1="530.01" x2="200.05" y2="530.01" stroke="#000" stroke-width="1.3"/>
<rect x="189.3" y="549.38" width="14.5" height="85.02" fill="#000"/>
<line x1="218.55" y1="593.33" x2="218.55" y2="585.58" stroke="#76757a" stroke-width="1.3"/>
<line x1="215.05" y1="585.58" x2="222.05" y2="585.58" stroke="#76757a" stroke-width="1.3"/>
<rect x="211.3" y="593.33" width="14.5" height="41.07" fill="#a2a1a5"/>
<line x1="254.55" y1="555.47" x2="254.55" y2="544.29" stroke="#000" stroke-width="1.3"/>
<line x1="251.05" y1="544.29" x2="258.05" y2="544.29" stroke="#000" stroke-width="1.3"/>
<rect x="247.2" y="555.47" width="14.7" height="78.93" fill="#000"/>
<line x1="276.05" y1="587.91" x2="276.05" y2="575.06" stroke="#76757a" stroke-width="1.3"/>
<line x1="272.55" y1="575.06" x2="279.55" y2="575.06" stroke="#76757a" stroke-width="1.3"/>
<rect x="268.9" y="587.91" width="14.3" height="46.49" fill="#a2a1a5"/>
<line x1="124.4" y1="523.2" x2="124.4" y2="634.9" stroke="#000" stroke-width="1"/>
<line x1="123.9" y1="634.4" x2="291.1" y2="634.4" stroke="#000" stroke-width="1"/>
<line x1="120.9" y1="634.4" x2="124.4" y2="634.4" stroke="#000" stroke-width="1"/>
<text x="118.8" y="637.28" font-size="8" font-weight="bold" text-anchor="end">0</text>
<line x1="120.9" y1="612.26" x2="124.4" y2="612.26" stroke="#000" stroke-width="1"/>
<text x="118.8" y="615.14" font-size="8" font-weight="bold" text-anchor="end">2</text>
<line x1="120.9" y1="590.12" x2="124.4" y2="590.12" stroke="#000" stroke-width="1"/>
<text x="118.8" y="593" font-size="8" font-weight="bold" text-anchor="end">4</text>
<line x1="120.9" y1="567.98" x2="124.4" y2="567.98" stroke="#000" stroke-width="1"/>
<text x="118.8" y="570.86" font-size="8" font-weight="bold" text-anchor="end">6</text>
<line x1="120.9" y1="545.84" x2="124.4" y2="545.84" stroke="#000" stroke-width="1"/>
<text x="118.8" y="548.72" font-size="8" font-weight="bold" text-anchor="end">8</text>
<line x1="120.9" y1="523.7" x2="124.4" y2="523.7" stroke="#000" stroke-width="1"/>
<text x="118.8" y="526.58" font-size="8" font-weight="bold" text-anchor="end">10</text>
<line x1="149.6" y1="634.4" x2="149.6" y2="636.9" stroke="#000" stroke-width="1"/>
<line x1="207.5" y1="634.4" x2="207.5" y2="636.9" stroke="#000" stroke-width="1"/>
<line x1="265.4" y1="634.4" x2="265.4" y2="636.9" stroke="#000" stroke-width="1"/>
<text x="147.6" y="657.9" font-size="14.2" text-anchor="middle">D1</text>
<text x="208.2" y="657.9" font-size="14.2" text-anchor="middle">D3</text>
<text x="264.1" y="657.9" font-size="14.2" text-anchor="middle">D7</text>
<text x="205" y="507.3" font-size="13.6" text-anchor="middle">CSF-1</text>
<text x="100.2" y="572.6" font-size="10.8" text-anchor="middle" transform="rotate(-90 100.2 572.6)">relative expression compared to sham</text>
<text x="220.5" y="580.98" font-size="19" font-weight="bold" text-anchor="middle">*</text>
<text x="277.7" y="570.77" font-size="19" font-weight="bold" text-anchor="middle">*</text>
</g>
<g>
<line x1="420.9" y1="620.86" x2="420.9" y2="617.11" stroke="#000" stroke-width="1.3"/>
<line x1="417.4" y1="617.11" x2="424.4" y2="617.11" stroke="#000" stroke-width="1.3"/>
<rect x="413.9" y="620.86" width="14" height="13.74" fill="#000"/>
<line x1="442.4" y1="627.62" x2="442.4" y2="625.27" stroke="#76757a" stroke-width="1.3"/>
<line x1="438.9" y1="625.27" x2="445.9" y2="625.27" stroke="#76757a" stroke-width="1.3"/>
<rect x="434.9" y="627.62" width="15" height="6.98" fill="#a2a1a5"/>
<line x1="478.75" y1="613.81" x2="478.75" y2="607.78" stroke="#000" stroke-width="1.3"/>
<line x1="475.25" y1="607.78" x2="482.25" y2="607.78" stroke="#000" stroke-width="1.3"/>
<rect x="471.6" y="613.81" width="14.3" height="20.79" fill="#000"/>
<line x1="500.45" y1="621.82" x2="500.45" y2="619.47" stroke="#76757a" stroke-width="1.3"/>
<line x1="496.95" y1="619.47" x2="503.95" y2="619.47" stroke="#76757a" stroke-width="1.3"/>
<rect x="493.1" y="621.82" width="14.7" height="12.78" fill="#a2a1a5"/>
<line x1="536.45" y1="555.99" x2="536.45" y2="544.97" stroke="#000" stroke-width="1.3"/>
<line x1="532.95" y1="544.97" x2="539.95" y2="544.97" stroke="#000" stroke-width="1.3"/>
<rect x="529.2" y="555.99" width="14.5" height="78.61" fill="#000"/>
<line x1="558.1" y1="596.1" x2="558.1" y2="588.54" stroke="#76757a" stroke-width="1.3"/>
<line x1="554.6" y1="588.54" x2="561.6" y2="588.54" stroke="#76757a" stroke-width="1.3"/>
<rect x="550.8" y="596.1" width="14.6" height="38.5" fill="#a2a1a5"/>
<line x1="405.7" y1="523.9" x2="405.7" y2="635.1" stroke="#000" stroke-width="1"/>
<line x1="405.2" y1="634.6" x2="573.5" y2="634.6" stroke="#000" stroke-width="1"/>
<line x1="402.2" y1="634.6" x2="405.7" y2="634.6" stroke="#000" stroke-width="1"/>
<text x="400.1" y="637.48" font-size="8" font-weight="bold" text-anchor="end">0</text>
<line x1="402.2" y1="597.87" x2="405.7" y2="597.87" stroke="#000" stroke-width="1"/>
<text x="400.1" y="600.75" font-size="8" font-weight="bold" text-anchor="end">5</text>
<line x1="402.2" y1="561.13" x2="405.7" y2="561.13" stroke="#000" stroke-width="1"/>
<text x="400.1" y="564.01" font-size="8" font-weight="bold" text-anchor="end">10</text>
<line x1="402.2" y1="524.4" x2="405.7" y2="524.4" stroke="#000" stroke-width="1"/>
<text x="400.1" y="527.28" font-size="8" font-weight="bold" text-anchor="end">15</text>
<line x1="431.4" y1="634.6" x2="431.4" y2="637.1" stroke="#000" stroke-width="1"/>
<line x1="489.6" y1="634.6" x2="489.6" y2="637.1" stroke="#000" stroke-width="1"/>
<line x1="547.5" y1="634.6" x2="547.5" y2="637.1" stroke="#000" stroke-width="1"/>
<text x="432.9" y="659.2" font-size="14.2" text-anchor="middle">D1</text>
<text x="493.4" y="659.2" font-size="14.2" text-anchor="middle">D3</text>
<text x="549.6" y="659.2" font-size="14.2" text-anchor="middle">D7</text>
<text x="482.9" y="505" font-size="14.2" text-anchor="middle">IRF4</text>
<text x="382.2" y="572.6" font-size="10.8" text-anchor="middle" transform="rotate(-90 382.2 572.6)">relative expression compared to sham</text>
<text x="443.3" y="624.98" font-size="19" font-weight="bold" text-anchor="middle">*</text>
<text x="501.7" y="617.98" font-size="19" font-weight="bold" text-anchor="middle">*</text>
<text x="559.8" y="584.48" font-size="19" font-weight="bold" text-anchor="middle">*</text>
</g>
<rect x="593.5" y="528.2" width="23.6" height="8.5" fill="#000"/>
<rect x="594" y="543.5" width="22.6" height="7.7" fill="#b3b1b3" stroke="#000" stroke-width="1"/>
<text x="624.8" y="536.6" font-size="12.5">young</text>
<text x="624.8" y="550.9" font-size="12.5">aged</text>
<g>
<line x1="56.65" y1="773.18" x2="56.65" y2="764.48" stroke="#000" stroke-width="1.15"/>
<line x1="53.15" y1="764.48" x2="60.15" y2="764.48" stroke="#000" stroke-width="1.15"/>
<rect x="50.5" y="773.18" width="12.3" height="49.92" fill="#000"/>
<line x1="75.65" y1="789.56" x2="75.65" y2="784.32" stroke="#76757a" stroke-width="1.15"/>
<line x1="72.15" y1="784.32" x2="79.15" y2="784.32" stroke="#76757a" stroke-width="1.15"/>
<rect x="69.5" y="789.56" width="12.3" height="33.54" fill="#a2a1a5"/>
<line x1="106.55" y1="761.21" x2="106.55" y2="754.24" stroke="#000" stroke-width="1.15"/>
<line x1="103.05" y1="754.24" x2="110.05" y2="754.24" stroke="#000" stroke-width="1.15"/>
<rect x="100.1" y="761.21" width="12.9" height="61.89" fill="#000"/>
<line x1="125.4" y1="786.11" x2="125.4" y2="783.42" stroke="#76757a" stroke-width="1.15"/>
<line x1="121.9" y1="783.42" x2="128.9" y2="783.42" stroke="#76757a" stroke-width="1.15"/>
<rect x="119.1" y="786.11" width="12.6" height="36.99" fill="#a2a1a5"/>
<line x1="156.2" y1="762.11" x2="156.2" y2="759.23" stroke="#000" stroke-width="1.15"/>
<line x1="152.7" y1="759.23" x2="159.7" y2="759.23" stroke="#000" stroke-width="1.15"/>
<rect x="149.8" y="762.11" width="12.8" height="60.99" fill="#000"/>
<line x1="175.35" y1="766.2" x2="175.35" y2="757.44" stroke="#76757a" stroke-width="1.15"/>
<line x1="171.85" y1="757.44" x2="178.85" y2="757.44" stroke="#76757a" stroke-width="1.15"/>
<rect x="169.1" y="766.2" width="12.5" height="56.9" fill="#a2a1a5"/>
<line x1="44.7" y1="726.55" x2="44.7" y2="823.65" stroke="#4a4a4a" stroke-width="1.1"/>
<line x1="44.15" y1="823.1" x2="188.3" y2="823.1" stroke="#4a4a4a" stroke-width="1.1"/>
<line x1="41.7" y1="823.1" x2="44.7" y2="823.1" stroke="#4a4a4a" stroke-width="1.1"/>
<text x="40.3" y="825.62" font-size="7" text-anchor="end">0.0</text>
<line x1="41.7" y1="791.1" x2="44.7" y2="791.1" stroke="#4a4a4a" stroke-width="1.1"/>
<text x="40.3" y="793.62" font-size="7" text-anchor="end">0.5</text>
<line x1="41.7" y1="759.1" x2="44.7" y2="759.1" stroke="#4a4a4a" stroke-width="1.1"/>
<text x="40.3" y="761.62" font-size="7" text-anchor="end">1.0</text>
<line x1="41.7" y1="727.1" x2="44.7" y2="727.1" stroke="#4a4a4a" stroke-width="1.1"/>
<text x="40.3" y="729.62" font-size="7" text-anchor="end">1.5</text>
<line x1="66.3" y1="823.1" x2="66.3" y2="825.6" stroke="#4a4a4a" stroke-width="1.1"/>
<line x1="116.2" y1="823.1" x2="116.2" y2="825.6" stroke="#4a4a4a" stroke-width="1.1"/>
<line x1="165.8" y1="823.1" x2="165.8" y2="825.6" stroke="#4a4a4a" stroke-width="1.1"/>
<text x="67.5" y="844" font-size="14.2" text-anchor="middle">D1</text>
<text x="116.4" y="844" font-size="14.2" text-anchor="middle">D3</text>
<text x="168" y="844" font-size="14.2" text-anchor="middle">D7</text>
<text x="116.7" y="711.9" font-size="14" text-anchor="middle">PGC1α</text>
<text x="20.5" y="773.4" font-size="10.4" text-anchor="middle" transform="rotate(-90 20.5 773.4)">relative expression compared to sham</text>
<text x="76.6" y="782.58" font-size="19" text-anchor="middle">*</text>
<text x="125.9" y="782.58" font-size="19" text-anchor="middle">*</text>
</g>
<g>
<line x1="289.5" y1="748.86" x2="289.5" y2="744.7" stroke="#000" stroke-width="1.15"/>
<line x1="286" y1="744.7" x2="293" y2="744.7" stroke="#000" stroke-width="1.15"/>
<rect x="283.2" y="748.86" width="12.6" height="74.24" fill="#000"/>
<line x1="308.45" y1="781.5" x2="308.45" y2="778.3" stroke="#76757a" stroke-width="1.15"/>
<line x1="304.95" y1="778.3" x2="311.95" y2="778.3" stroke="#76757a" stroke-width="1.15"/>
<rect x="302.2" y="781.5" width="12.5" height="41.6" fill="#a2a1a5"/>
<line x1="339.55" y1="773.18" x2="339.55" y2="767.1" stroke="#000" stroke-width="1.15"/>
<line x1="336.05" y1="767.1" x2="343.05" y2="767.1" stroke="#000" stroke-width="1.15"/>
<rect x="333.4" y="773.18" width="12.3" height="49.92" fill="#000"/>
<line x1="358.4" y1="777.98" x2="358.4" y2="774.46" stroke="#76757a" stroke-width="1.15"/>
<line x1="354.9" y1="774.46" x2="361.9" y2="774.46" stroke="#76757a" stroke-width="1.15"/>
<rect x="352.1" y="777.98" width="12.6" height="45.12" fill="#a2a1a5"/>
<line x1="389.2" y1="758.46" x2="389.2" y2="750.78" stroke="#000" stroke-width="1.15"/>
<line x1="385.7" y1="750.78" x2="392.7" y2="750.78" stroke="#000" stroke-width="1.15"/>
<rect x="383.1" y="758.46" width="12.2" height="64.64" fill="#000"/>
<line x1="408.3" y1="766.14" x2="408.3" y2="763.26" stroke="#76757a" stroke-width="1.15"/>
<line x1="404.8" y1="763.26" x2="411.8" y2="763.26" stroke="#76757a" stroke-width="1.15"/>
<rect x="402" y="766.14" width="12.6" height="56.96" fill="#a2a1a5"/>
<line x1="277.1" y1="726.55" x2="277.1" y2="823.65" stroke="#4a4a4a" stroke-width="1.1"/>
<line x1="276.55" y1="823.1" x2="421" y2="823.1" stroke="#4a4a4a" stroke-width="1.1"/>
<line x1="274.1" y1="823.1" x2="277.1" y2="823.1" stroke="#4a4a4a" stroke-width="1.1"/>
<text x="272.7" y="825.62" font-size="7" text-anchor="end">0</text>
<line x1="274.1" y1="791.1" x2="277.1" y2="791.1" stroke="#4a4a4a" stroke-width="1.1"/>
<text x="272.7" y="793.62" font-size="7" text-anchor="end">1</text>
<line x1="274.1" y1="759.1" x2="277.1" y2="759.1" stroke="#4a4a4a" stroke-width="1.1"/>
<text x="272.7" y="761.62" font-size="7" text-anchor="end">2</text>
<line x1="274.1" y1="727.1" x2="277.1" y2="727.1" stroke="#4a4a4a" stroke-width="1.1"/>
<text x="272.7" y="729.62" font-size="7" text-anchor="end">3</text>
<line x1="299.3" y1="823.1" x2="299.3" y2="825.6" stroke="#4a4a4a" stroke-width="1.1"/>
<line x1="348.9" y1="823.1" x2="348.9" y2="825.6" stroke="#4a4a4a" stroke-width="1.1"/>
<line x1="398.5" y1="823.1" x2="398.5" y2="825.6" stroke="#4a4a4a" stroke-width="1.1"/>
<text x="301.7" y="844" font-size="14.2" text-anchor="middle">D1</text>
<text x="351" y="844" font-size="14.2" text-anchor="middle">D3</text>
<text x="403" y="844" font-size="14.2" text-anchor="middle">D7</text>
<text x="351.4" y="711.9" font-size="14.1" text-anchor="middle">STAT6</text>
<text x="258.5" y="773.4" font-size="10.4" text-anchor="middle" transform="rotate(-90 258.5 773.4)">relative expression compared to sham</text>
<text x="308.7" y="775.98" font-size="19" text-anchor="middle">*</text>
</g>
<g>
<line x1="525.15" y1="763.94" x2="525.15" y2="745.46" stroke="#000" stroke-width="1.15"/>
<line x1="521.65" y1="745.46" x2="528.65" y2="745.46" stroke="#000" stroke-width="1.15"/>
<rect x="518.9" y="763.94" width="12.5" height="59.16" fill="#000"/>
<line x1="544.1" y1="787.46" x2="544.1" y2="773.78" stroke="#76757a" stroke-width="1.15"/>
<line x1="540.6" y1="773.78" x2="547.6" y2="773.78" stroke="#76757a" stroke-width="1.15"/>
<rect x="537.8" y="787.46" width="12.6" height="35.64" fill="#a2a1a5"/>
<line x1="575.35" y1="783.14" x2="575.35" y2="777.86" stroke="#000" stroke-width="1.15"/>
<line x1="571.85" y1="777.86" x2="578.85" y2="777.86" stroke="#000" stroke-width="1.15"/>
<rect x="569.1" y="783.14" width="12.5" height="39.96" fill="#000"/>
<line x1="593.9" y1="775.58" x2="593.9" y2="765.02" stroke="#76757a" stroke-width="1.15"/>
<line x1="590.4" y1="765.02" x2="597.4" y2="765.02" stroke="#76757a" stroke-width="1.15"/>
<rect x="587.8" y="775.58" width="12.2" height="47.52" fill="#a2a1a5"/>
<line x1="624.85" y1="782.54" x2="624.85" y2="778.82" stroke="#000" stroke-width="1.15"/>
<line x1="621.35" y1="778.82" x2="628.35" y2="778.82" stroke="#000" stroke-width="1.15"/>
<rect x="618.7" y="782.54" width="12.3" height="40.56" fill="#000"/>
<line x1="644" y1="789.02" x2="644" y2="783.38" stroke="#76757a" stroke-width="1.15"/>
<line x1="640.5" y1="783.38" x2="647.5" y2="783.38" stroke="#76757a" stroke-width="1.15"/>
<rect x="637.7" y="789.02" width="12.6" height="34.08" fill="#a2a1a5"/>
<line x1="512.2" y1="726.55" x2="512.2" y2="823.65" stroke="#4a4a4a" stroke-width="1.1"/>
<line x1="511.65" y1="823.1" x2="656.7" y2="823.1" stroke="#4a4a4a" stroke-width="1.1"/>
<line x1="509.2" y1="823.1" x2="512.2" y2="823.1" stroke="#4a4a4a" stroke-width="1.1"/>
<text x="507.8" y="825.62" font-size="7" text-anchor="end">0</text>
<line x1="509.2" y1="799.1" x2="512.2" y2="799.1" stroke="#4a4a4a" stroke-width="1.1"/>
<text x="507.8" y="801.62" font-size="7" text-anchor="end">2</text>
<line x1="509.2" y1="775.1" x2="512.2" y2="775.1" stroke="#4a4a4a" stroke-width="1.1"/>
<text x="507.8" y="777.62" font-size="7" text-anchor="end">4</text>
<line x1="509.2" y1="751.1" x2="512.2" y2="751.1" stroke="#4a4a4a" stroke-width="1.1"/>
<text x="507.8" y="753.62" font-size="7" text-anchor="end">6</text>
<line x1="509.2" y1="727.1" x2="512.2" y2="727.1" stroke="#4a4a4a" stroke-width="1.1"/>
<text x="507.8" y="729.62" font-size="7" text-anchor="end">8</text>
<line x1="534.6" y1="823.1" x2="534.6" y2="825.6" stroke="#4a4a4a" stroke-width="1.1"/>
<line x1="584.6" y1="823.1" x2="584.6" y2="825.6" stroke="#4a4a4a" stroke-width="1.1"/>
<line x1="634.2" y1="823.1" x2="634.2" y2="825.6" stroke="#4a4a4a" stroke-width="1.1"/>
<text x="537.4" y="844" font-size="14.2" text-anchor="middle">D1</text>
<text x="586.8" y="844" font-size="14.2" text-anchor="middle">D3</text>
<text x="638.3" y="844" font-size="14.2" text-anchor="middle">D7</text>
<text x="584.4" y="711.9" font-size="14.1" text-anchor="middle">IRAK</text>
<text x="495.1" y="773.4" font-size="10.4" text-anchor="middle" transform="rotate(-90 495.1 773.4)">relative expression compared to sham</text>
</g>
</svg>
</body>
</html>
